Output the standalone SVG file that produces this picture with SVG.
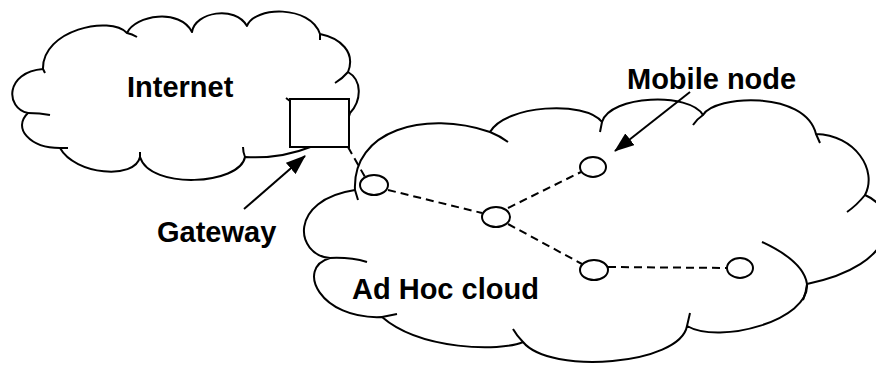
<svg xmlns="http://www.w3.org/2000/svg" width="876" height="365" viewBox="0 0 876 365">
<style>
.cloud{fill:#fff;stroke:#000;stroke-width:2;stroke-linejoin:round}
.tail{fill:none;stroke:#000;stroke-width:2}
.node{fill:#fff;stroke:#000;stroke-width:2}
.link{fill:none;stroke:#000;stroke-width:2;stroke-dasharray:8 5}
.arrow{fill:none;stroke:#000;stroke-width:2;marker-end:url(#ah)}
.label{font-family:"Liberation Sans",Arial,sans-serif;font-weight:bold;font-size:29px;fill:#000}
</style>
<defs>
<marker id="ah" markerUnits="userSpaceOnUse" markerWidth="20" markerHeight="15" refX="19" refY="7.5" orient="auto">
<path d="M0,0 L20,7.5 L0,15 z" fill="#000"/>
</marker>
</defs>
<g id="internet-cloud">
<path class="cloud" d="M28,113 C5,108 5,72 43,69 C42,30 110,15 127,33 C135,15 180,8 192,32 C195,12 235,5 247,26 C255,6 310,5 320,34 C340,38 356,52 348,72 C362,80 362,100 350,113 C345,140 290,160 245,157 C240,185 150,190 140,157 C135,180 75,175 60,148 C30,148 12,128 28,113 Z"/>
<path class="tail" d="M127,33 Q132,34 137,37 M320,34 L320,40 M348,72 Q342,79 335,83 M245,157 Q243,152 243,147 M140,157 L140,152 M60,148 L68,148 M28,113 Q40,113 50,115 M43,69 L45,73 M286,98 L290,101"/>
<text class="label" x="127" y="97">Internet</text>
</g>
<g id="adhoc-cloud">
<path class="cloud" d="M330,258 C295,255 288,200 355,190 C352,130 425,110 490,132 C505,105 585,100 602,122 C610,95 690,92 703,115 C715,95 805,90 816,134 C855,135 878,170 865,195 C900,210 900,265 807,284 C810,320 720,345 687,326 C680,365 550,375 523,342 C500,352 420,350 382,317 C320,320 295,268 330,258 Z"/>
<path class="tail" d="M355,190 L358,200 M490,132 Q500,136 508,142 M602,122 L600,132 M703,115 Q697,119 693,125 M816,134 L820,143 M865,195 Q857,205 847,212 M762,242 C790,255 805,270 807,284 Q806,293 803,300 M687,326 L690,313 M523,342 Q517,336 513,329 M382,317 L397,314 M330,258 Q350,257 367,262"/>
<text class="label" x="352" y="299">Ad Hoc cloud</text>
</g>
<g id="gateway">
<rect x="290" y="99" width="59" height="48" fill="#fff" stroke="#000" stroke-width="2"/>
<text class="label" x="157" y="242">Gateway</text>
</g>
<g id="connectors">
<line class="link" x1="348" y1="147" x2="365" y2="177"/>
<line class="link" x1="388" y1="190" x2="482" y2="213"/>
<line class="link" x1="508" y1="208" x2="581" y2="172"/>
<line class="link" x1="508" y1="224" x2="582" y2="264"/>
<line class="link" x1="608" y1="267" x2="727" y2="268"/>
<line class="arrow" x1="244" y1="209" x2="305" y2="156"/>
<line class="arrow" x1="690" y1="92" x2="615" y2="151"/>
</g>
<g id="node1"><ellipse class="node" cx="374" cy="185" rx="14" ry="10"/></g>
<g id="node2"><ellipse class="node" cx="496" cy="217" rx="14" ry="10"/></g>
<g id="node3"><ellipse class="node" cx="593" cy="167" rx="13" ry="10"/></g>
<g id="node4"><ellipse class="node" cx="594" cy="270" rx="14" ry="10"/></g>
<g id="node5"><ellipse class="node" cx="740" cy="268" rx="13" ry="10"/></g>
<g id="mobile-label"><text class="label" x="627" y="89">Mobile node</text></g>
</svg>
